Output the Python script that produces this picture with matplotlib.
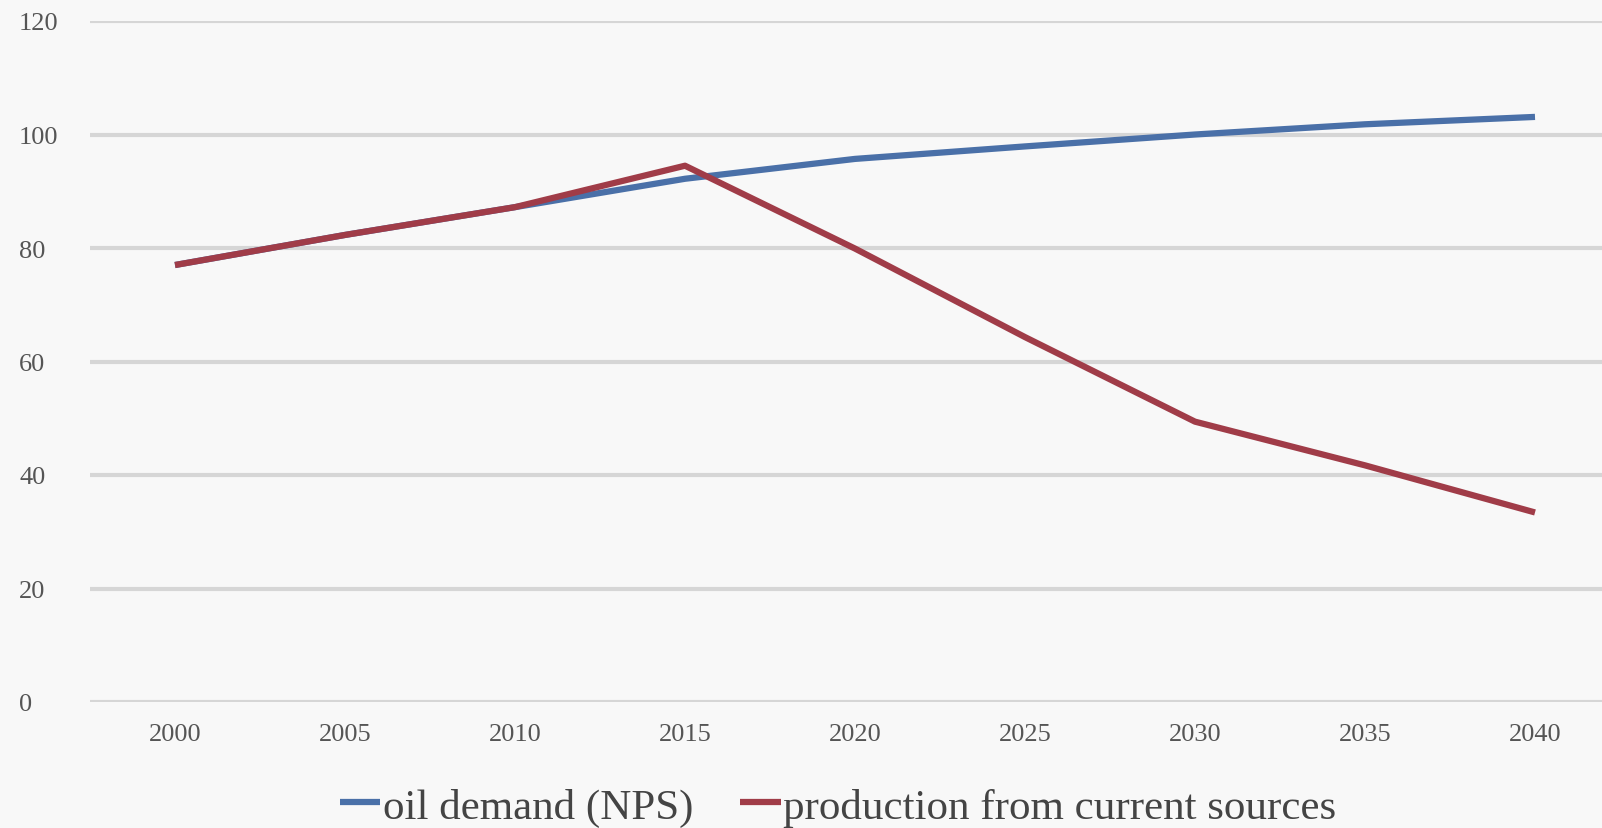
import matplotlib
matplotlib.use("Agg")
import matplotlib.pyplot as plt

years = ["2000", "2005", "2010", "2015", "2020", "2025", "2030", "2035", "2040"]
oil_demand = [77, 82.3, 87.2, 92.2, 95.7, 97.9, 100.0, 101.8, 103.1]
production_current = [77, 82.3, 87.2, 94.5, 79.9, 64.3, 49.4, 41.7, 33.4]
y_ticks = [0, 20, 40, 60, 80, 100, 120]

plt.rcParams['font.family'] = ['Liberation Serif', 'DejaVu Serif']

fig = plt.figure(figsize=(16.02, 8.29), dpi=100)
fig.patch.set_facecolor('#f8f8f8')
W, H = 1602, 829
ax = fig.add_axes([90 / W, 1 - 703 / H, (1620 - 90) / W, (703 - 22) / H])
ax.set_facecolor('#f8f8f8')

x = list(range(len(years)))
ax.plot(x, oil_demand, color='#4a70a8', lw=4.5, solid_capstyle='butt', label='oil demand (NPS)', zorder=3)
ax.plot(x, production_current, color='#a03c48', lw=4.5, solid_capstyle='butt', label='production from current sources', zorder=4)

ax.set_xlim(-0.5, len(years) - 0.5)
ax.set_ylim(0, 120)
ax.set_xticks(x)
ax.set_xticklabels(years)
ax.set_yticks(y_ticks)
ax.set_yticklabels([str(v) for v in y_ticks])
ax.tick_params(length=0, labelsize=19, labelcolor='#555555')
ax.tick_params(axis='y', pad=51)
ax.tick_params(axis='x', pad=15)
for lbl in ax.get_yticklabels():
    lbl.set_horizontalalignment('left')
for s in ax.spines.values():
    s.set_visible(False)
ax.yaxis.grid(True, color='#d6d6d6', lw=3)
ax.set_axisbelow(True)

fig.legend(loc='center', bbox_to_anchor=(838 / W, 1 - 808 / H), ncol=2, frameon=False,
           fontsize=31, handlelength=0.95, handletextpad=0.05, columnspacing=1.1,
           labelcolor='#444444')

fig.savefig('out.png', dpi=100, facecolor=fig.get_facecolor())
